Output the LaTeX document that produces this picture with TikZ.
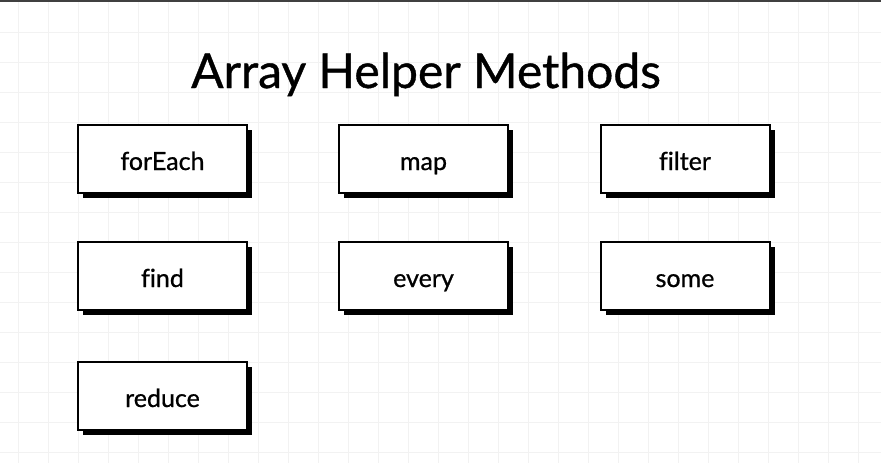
\documentclass[tikz,border=0pt]{standalone}
\usepackage{fontspec}
\setmainfont{Lato}[Ligatures=NoCommon,FakeBold=0.8]
\usetikzlibrary{shadows}

\begin{document}
\begin{tikzpicture}[x=1pt,y=-1pt,
        gridline/.style={draw=black!5,line width=1pt},
        method/.style={draw,line width=2pt,fill=white,minimum width=169pt,minimum height=68pt,
            text height=22pt,text depth=0pt,font=\fontsize{25}{28}\selectfont,
            drop shadow={shadow xshift=5pt,shadow yshift=-5pt,fill=black,opacity=1}}]
        \useasboundingbox (0,0) rectangle (881,463);
        \fill[white] (0,0) rectangle (881,463);
        \foreach \x in {18,48,...,878} \draw[gridline] (\x,0) -- (\x,463);
        \foreach \y in {32,62,...,462} \draw[gridline] (0,\y) -- (881,\y);
        \fill[black!75] (0,0) rectangle (881,2);
        \node (title) at (426,88) [anchor=base,font=\fontsize{48}{52}\selectfont] {Array Helper Methods};
        \node (forEach) at (162.5,159) [method] {forEach};
        \node (map) at (423.5,159) [method] {map};
        \node (filter) at (685,159) [method] {filter};
        \node (find) at (162.5,276) [method] {find};
        \node (every) at (423.5,276) [method] {every};
        \node (some) at (685,276) [method] {some};
        \node (reduce) at (162.5,396) [method] {reduce};
    \end{tikzpicture}
\end{document}
